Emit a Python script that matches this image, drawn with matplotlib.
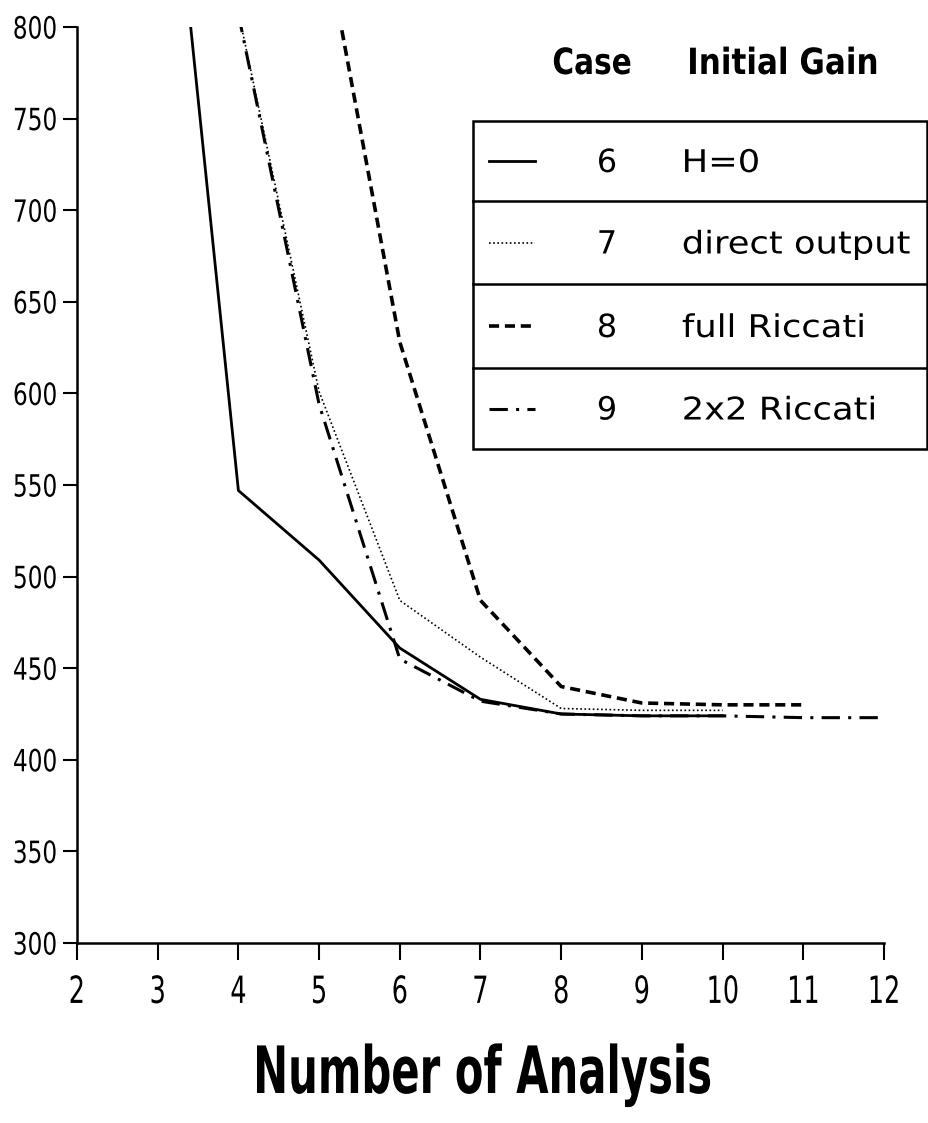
import matplotlib
matplotlib.use("Agg")
import matplotlib.pyplot as plt
from matplotlib import patheffects
from matplotlib.lines import Line2D
from matplotlib.patches import Rectangle
from matplotlib.transforms import Affine2D

# Cost versus number of analyses for the four initial-gain cases
x_h0 = [3, 4, 5, 6, 7, 8, 9, 10]
y_h0 = [975, 547, 509, 461, 433, 425, 424, 424]

x_direct = [4, 5, 6, 7, 8, 9, 10]
y_direct = [808, 601, 487, 456, 428, 427, 427]

x_full = [5, 6, 7, 8, 9, 10, 11]
y_full = [865, 628, 487, 440, 431, 430, 430]

x_2x2 = [4, 5, 6, 7, 8, 9, 10, 11, 12]
y_2x2 = [807, 594, 455, 432, 425, 424, 424, 423, 423]

cases = ["6", "7", "8", "9"]
gains = ["H=0", "direct output", "full Riccati", "2x2 Riccati"]
x_ticks = list(range(2, 13))
y_ticks = list(range(300, 801, 50))

styles = [
    dict(linestyle="-", linewidth=2.0),
    dict(linestyle=(0, (1, 1.5)), linewidth=1.2),
    dict(linestyle=(0, (2.8, 1.6)), linewidth=2.6),
    dict(linestyle=(0, (6, 2.7, 1, 2.7)), linewidth=2.2),
]


class Squeeze(patheffects.AbstractPathEffect):
    """Scale glyphs horizontally around the text's left, right or centre."""

    def __init__(self, sx, anchor="center"):
        super().__init__()
        self.sx = sx
        self.anchor = anchor

    def draw_path(self, renderer, gc, tpath, affine, rgbFace=None):
        bb = tpath.get_extents(affine)
        x0 = {"left": bb.x0, "right": bb.x1}.get(self.anchor, (bb.x0 + bb.x1) / 2)
        t = affine + Affine2D().translate(-x0, 0).scale(self.sx, 1).translate(x0, 0)
        renderer.draw_path(gc, tpath, t, rgbFace)


fig = plt.figure(figsize=(9.29, 11.23), dpi=100)
ax = fig.add_axes([77 / 929, 1 - 943 / 1123, 807 / 929, 916 / 1123])

series = [(x_h0, y_h0), (x_direct, y_direct), (x_full, y_full), (x_2x2, y_2x2)]
for (xs, ys), st in zip(series, styles):
    ax.plot(xs, ys, color="black", **st)

ax.set_xlim(2, 12)
ax.set_ylim(300, 800)
ax.set_xticks(x_ticks)
ax.set_yticks(y_ticks)
ax.set_xticklabels([str(t) for t in x_ticks], fontsize=27)
ax.set_yticklabels([str(t) for t in y_ticks], fontsize=22)
ax.tick_params(axis="x", direction="out", length=12, width=1.5, pad=11)
ax.tick_params(axis="y", direction="out", length=10, width=1.5, pad=4)
for tick in ax.xaxis.get_major_ticks():
    tick.label1.set_path_effects([Squeeze(0.68)])
for tick in ax.yaxis.get_major_ticks():
    tick.label1.set_path_effects([Squeeze(0.76, "right")])
for side in ("top", "right"):
    ax.spines[side].set_visible(False)
for side in ("left", "bottom"):
    ax.spines[side].set_linewidth(1.8)

fig.text(482 / 929, 1 - 1093 / 1123, "Number of Analysis", ha="center",
         va="baseline", fontweight="bold", fontsize=47,
         path_effects=[Squeeze(0.64)])

# legend drawn as a ruled table
tab = fig.add_axes([0, 0, 1, 1], facecolor="none")
tab.set_xlim(0, 929)
tab.set_ylim(1123, 0)
tab.axis("off")

tab.text(592, 74, "Case", ha="center", va="baseline", fontweight="bold",
         fontsize=26, path_effects=[Squeeze(0.82)])
tab.text(783, 74, "Initial Gain", ha="center", va="baseline", fontweight="bold",
         fontsize=26, path_effects=[Squeeze(0.86)])

row_edges = [121, 201, 284, 368, 449]
tab.add_patch(Rectangle((473, 121), 454, 328, fill=False, lw=1.8, color="black"))
for y in row_edges[1:-1]:
    tab.add_line(Line2D([473, 927], [y, y], color="black", lw=1.8))

for i, (case, gain) in enumerate(zip(cases, gains)):
    yc = (row_edges[i] + row_edges[i + 1]) / 2
    tab.add_line(Line2D([489, 535], [yc, yc], color="black", **styles[i]))
    tab.text(607, yc + 11, case, ha="center", va="baseline", fontsize=23,
             path_effects=[Squeeze(1.0)])
    tab.text(682, yc + 11, gain, ha="left", va="baseline", fontsize=22.5,
             path_effects=[Squeeze(1.13, "left")])

fig.savefig("out.png", dpi=100)
